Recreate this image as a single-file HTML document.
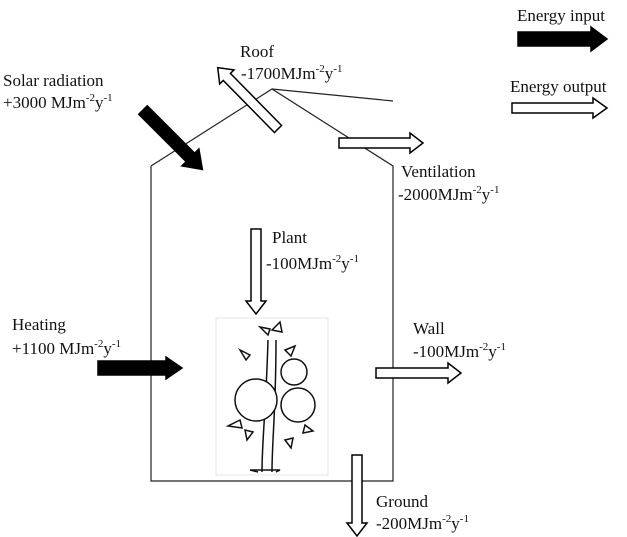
<!DOCTYPE html>
<html><head><meta charset="utf-8"><style>
html,body{margin:0;padding:0;background:#fff}
svg{display:block}
text{font-family:"Liberation Serif",serif;font-size:17px;fill:#111}
tspan.s{font-size:11px}
</style></head><body>
<svg width="627" height="537" viewBox="0 0 627 537">
<g fill="none" stroke="#222" stroke-width="1.2">
<polyline points="151,166 151,481 393,481 393,166 272,89 151,166"/>
<line x1="272" y1="89" x2="393" y2="101"/>
</g>
<g fill="#fff" stroke="#111" stroke-width="1.5">
<rect x="216" y="318" width="112" height="157" fill="#fff" stroke="#eee"/>
<path d="M262,472 C262,440 266,410 268,340" fill="none"/>
<path d="M272,472 C272,440 276,410 276,340" fill="none"/>
<path d="M258,472 L250,470 L280,470 L276,472" fill="none"/>
<circle cx="256" cy="400" r="21"/>
<circle cx="298" cy="405" r="17"/>
<circle cx="294" cy="372" r="13"/>
<path d="M268,335 l-8,-8 l10,2 z M272,330 l8,-8 l2,10 z M250,355 l-10,-5 l6,10 z M285,350 l10,-4 l-4,10 z M240,420 l-12,6 l14,2 z M245,430 l2,10 l6,-8 z M305,425 l8,6 l-10,2 z M285,440 l6,8 l2,-10 z"/>
</g>
<g stroke="#000" stroke-width="1.5">
<polygon fill="#000" points="0,-6 67,-6 67,-12 84,0 67,12 67,6 0,6" transform="translate(143,110) rotate(45)"/>
<polygon fill="#fff" points="0,-5 73,-5 73,-10 86,0 73,10 73,5 0,5" transform="translate(278,129) rotate(225.5)"/>
<polygon fill="#fff" points="0,-5 71,-5 71,-10 84,0 71,10 71,5 0,5" transform="translate(339,143)"/>
<polygon fill="#fff" points="0,-5 72,-5 72,-10 85,0 72,10 72,5 0,5" transform="translate(256,229) rotate(90)"/>
<polygon fill="#000" points="0,-7 68,-7 68,-11 84,0 68,11 68,7 0,7" transform="translate(98,368)"/>
<polygon fill="#fff" points="0,-5 72,-5 72,-10 85,0 72,10 72,5 0,5" transform="translate(376,373)"/>
<polygon fill="#fff" points="0,-5 68,-5 68,-10 81,0 68,10 68,5 0,5" transform="translate(357,455) rotate(90)"/>
<polygon fill="#000" points="0,-7 73,-7 73,-12 89,0 73,12 73,7 0,7" transform="translate(518,39)"/>
<polygon fill="#fff" points="0,-5 81,-5 81,-10 95,0 81,10 81,5 0,5" transform="translate(512,108)"/>
</g>
<text x="517" y="21">Energy input</text>
<text x="510" y="92">Energy output</text>
<text x="3" y="86">Solar radiation</text>
<text x="3" y="108">+3000 MJm<tspan class="s" dy="-7">-2</tspan><tspan dy="7">y</tspan><tspan class="s" dy="-7">-1</tspan></text>
<text x="240" y="57">Roof</text>
<text x="241" y="79">-1700MJm<tspan class="s" dy="-7">-2</tspan><tspan dy="7">y</tspan><tspan class="s" dy="-7">-1</tspan></text>
<text x="401" y="177">Ventilation</text>
<text x="398" y="200">-2000MJm<tspan class="s" dy="-7">-2</tspan><tspan dy="7">y</tspan><tspan class="s" dy="-7">-1</tspan></text>
<text x="272" y="243">Plant</text>
<text x="266" y="269">-100MJm<tspan class="s" dy="-7">-2</tspan><tspan dy="7">y</tspan><tspan class="s" dy="-7">-1</tspan></text>
<text x="12" y="330">Heating</text>
<text x="12" y="354">+1100 MJm<tspan class="s" dy="-7">-2</tspan><tspan dy="7">y</tspan><tspan class="s" dy="-7">-1</tspan></text>
<text x="413" y="334">Wall</text>
<text x="413" y="357">-100MJm<tspan class="s" dy="-7">-2</tspan><tspan dy="7">y</tspan><tspan class="s" dy="-7">-1</tspan></text>
<text x="376" y="507">Ground</text>
<text x="376" y="529">-200MJm<tspan class="s" dy="-7">-2</tspan><tspan dy="7">y</tspan><tspan class="s" dy="-7">-1</tspan></text>
</svg>
</body></html>
